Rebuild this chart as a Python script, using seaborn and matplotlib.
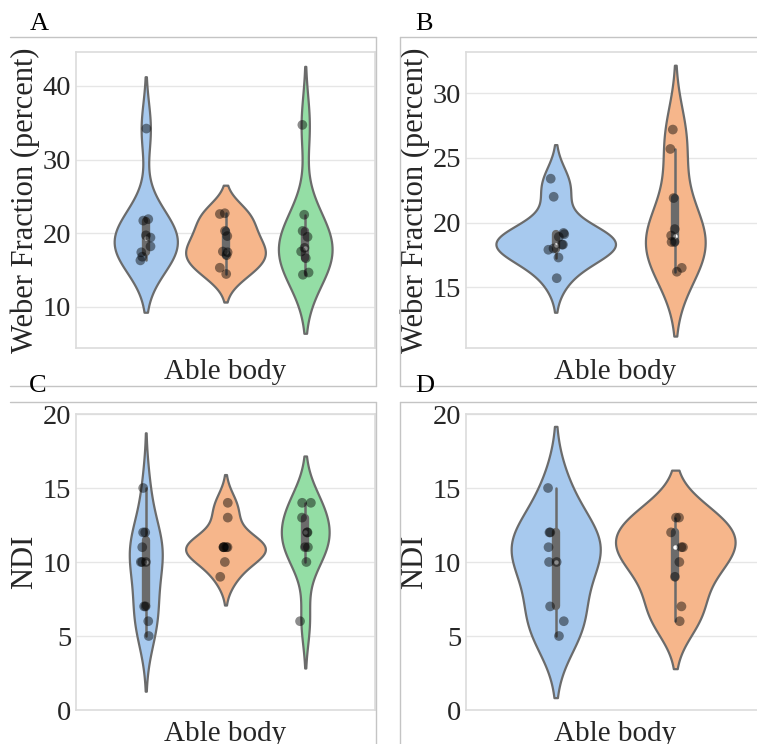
import numpy as np
import pandas as pd
import matplotlib
matplotlib.use("Agg")
import matplotlib.pyplot as plt
from matplotlib.lines import Line2D
import seaborn as sns

np.random.seed(3)

# ---------------- data ----------------
category = "Able body"

# Panel A: Weber fraction, three groups
a_g1 = [34.2, 21.9, 21.7, 19.7, 19.4, 18.2, 17.4, 16.8, 16.3]
a_g2 = [22.7, 22.6, 20.3, 19.6, 17.5, 17.4, 17.0, 15.3, 14.45]
a_g3 = [34.7, 22.5, 20.3, 19.5, 18.0, 17.5, 16.6, 14.65, 14.35]

# Panel B: Weber fraction, two groups
b_g1 = [23.4, 22.0, 19.2, 19.1, 18.9, 18.3, 18.3, 18.0, 17.9, 17.3, 15.7]
b_g2 = [27.2, 25.7, 21.9, 19.5, 19.0, 18.5, 18.5, 16.5, 16.2]

# Panel C: NDI, three groups
c_g1 = [15, 12, 12, 11, 10, 10, 10, 7, 7, 6, 5]
c_g2 = [14, 13, 11, 11, 11, 11, 11, 10, 9]
c_g3 = [14, 14, 13, 12, 12, 11, 11, 10, 6]

# Panel D: NDI, two groups
d_g1 = [15, 12, 12, 11, 10, 10, 7, 6, 5]
d_g2 = [13, 13, 12, 11, 11, 10, 9, 7, 6]

panel_letters = ["A", "B", "C", "D"]
ylabels = ["Weber Fraction (percent)", "Weber Fraction (percent)", "NDI", "NDI"]
yticks_list = [[10, 20, 30, 40], [15, 20, 25, 30], [0, 5, 10, 15, 20], [0, 5, 10, 15, 20]]
ylims = [(4.4, 44.6), (10.3, 33.2), (0, 20), (0, 20)]


def make_df(groups):
    rows = []
    for gi, vals in enumerate(groups):
        for v in vals:
            rows.append({"group": category, "hue": f"g{gi+1}", "value": v})
    return pd.DataFrame(rows)


panels = [make_df([a_g1, a_g2, a_g3]), make_df([b_g1, b_g2]),
          make_df([c_g1, c_g2, c_g3]), make_df([d_g1, d_g2])]

# ---------------- style ----------------
sns.set_theme(style="whitegrid")
plt.rcParams["font.family"] = ["Liberation Serif", "DejaVu Serif"]
plt.rcParams["axes.edgecolor"] = "#dcdcdc"
plt.rcParams["grid.color"] = "#e6e6e6"

W, H = 757, 744
fig = plt.figure(figsize=(W / 100, H / 100), dpi=100)


def px_rect(left, top, right, bottom):
    return [left / W, 1 - bottom / H, (right - left) / W, (bottom - top) / H]


axes_px = [(76, 52, 375, 348), (466, 52, 765, 348),
           (76, 414, 375, 710), (466, 414, 765, 710)]

pastel = sns.color_palette("pastel")

for i, df in enumerate(panels):
    ax = fig.add_axes(px_rect(*axes_px[i]))
    nh = df["hue"].nunique()
    pal = pastel[:nh]
    sns.violinplot(data=df, x="group", y="value", hue="hue", palette=pal,
                   ax=ax, legend=False, linewidth=1.6, linecolor="#6b6b6b",
                   saturation=0.85, common_norm=True,
                   inner_kws=dict(box_width=6, whis_width=1.8, marker="o",
                                  markersize=3.2, markeredgewidth=0,
                                  markerfacecolor="white"))
    sns.stripplot(data=df, x="group", y="value", hue="hue", dodge=True,
                  palette=["black"] * nh, alpha=0.45, size=7, jitter=0.06,
                  legend=False, ax=ax, zorder=3)
    ax.set_ylim(*ylims[i])
    ax.set_yticks(yticks_list[i])
    ax.set_xlabel("")
    ax.set_ylabel(ylabels[i], fontsize=22)
    ax.yaxis.set_label_coords(-0.122, 0.5)
    ax.tick_params(axis="y", labelsize=20.5, length=0, pad=3.5)
    ax.tick_params(axis="x", labelsize=21, length=0, pad=8)
    ax.xaxis.grid(False)
    for s in ax.spines.values():
        s.set_color("#dcdcdc")
        s.set_linewidth(1.2)

# panel letters
letter_pos = [(39, 24), (424, 24), (38, 386), (425, 386)]
for (x, y), t in zip(letter_pos, panel_letters):
    fig.text(x / W, 1 - y / H, t, ha="center", va="center", fontsize=19,
             color="black")

# panel frames
frame_color = "#c4c4c4"


def fline(x0, y0, x1, y1):
    fig.add_artist(Line2D([x0 / W, x1 / W], [1 - y0 / H, 1 - y1 / H],
                          transform=fig.transFigure, color=frame_color,
                          linewidth=1.0))


fline(10, 37, 376, 37); fline(376, 37, 376, 386); fline(10, 386, 376, 386)
fline(400, 37, 757, 37); fline(400, 37, 400, 386); fline(400, 386, 757, 386)
fline(10, 402, 376, 402); fline(376, 402, 376, 744)
fline(400, 402, 757, 402); fline(400, 402, 400, 744)

fig.savefig("out.png", dpi=100)
